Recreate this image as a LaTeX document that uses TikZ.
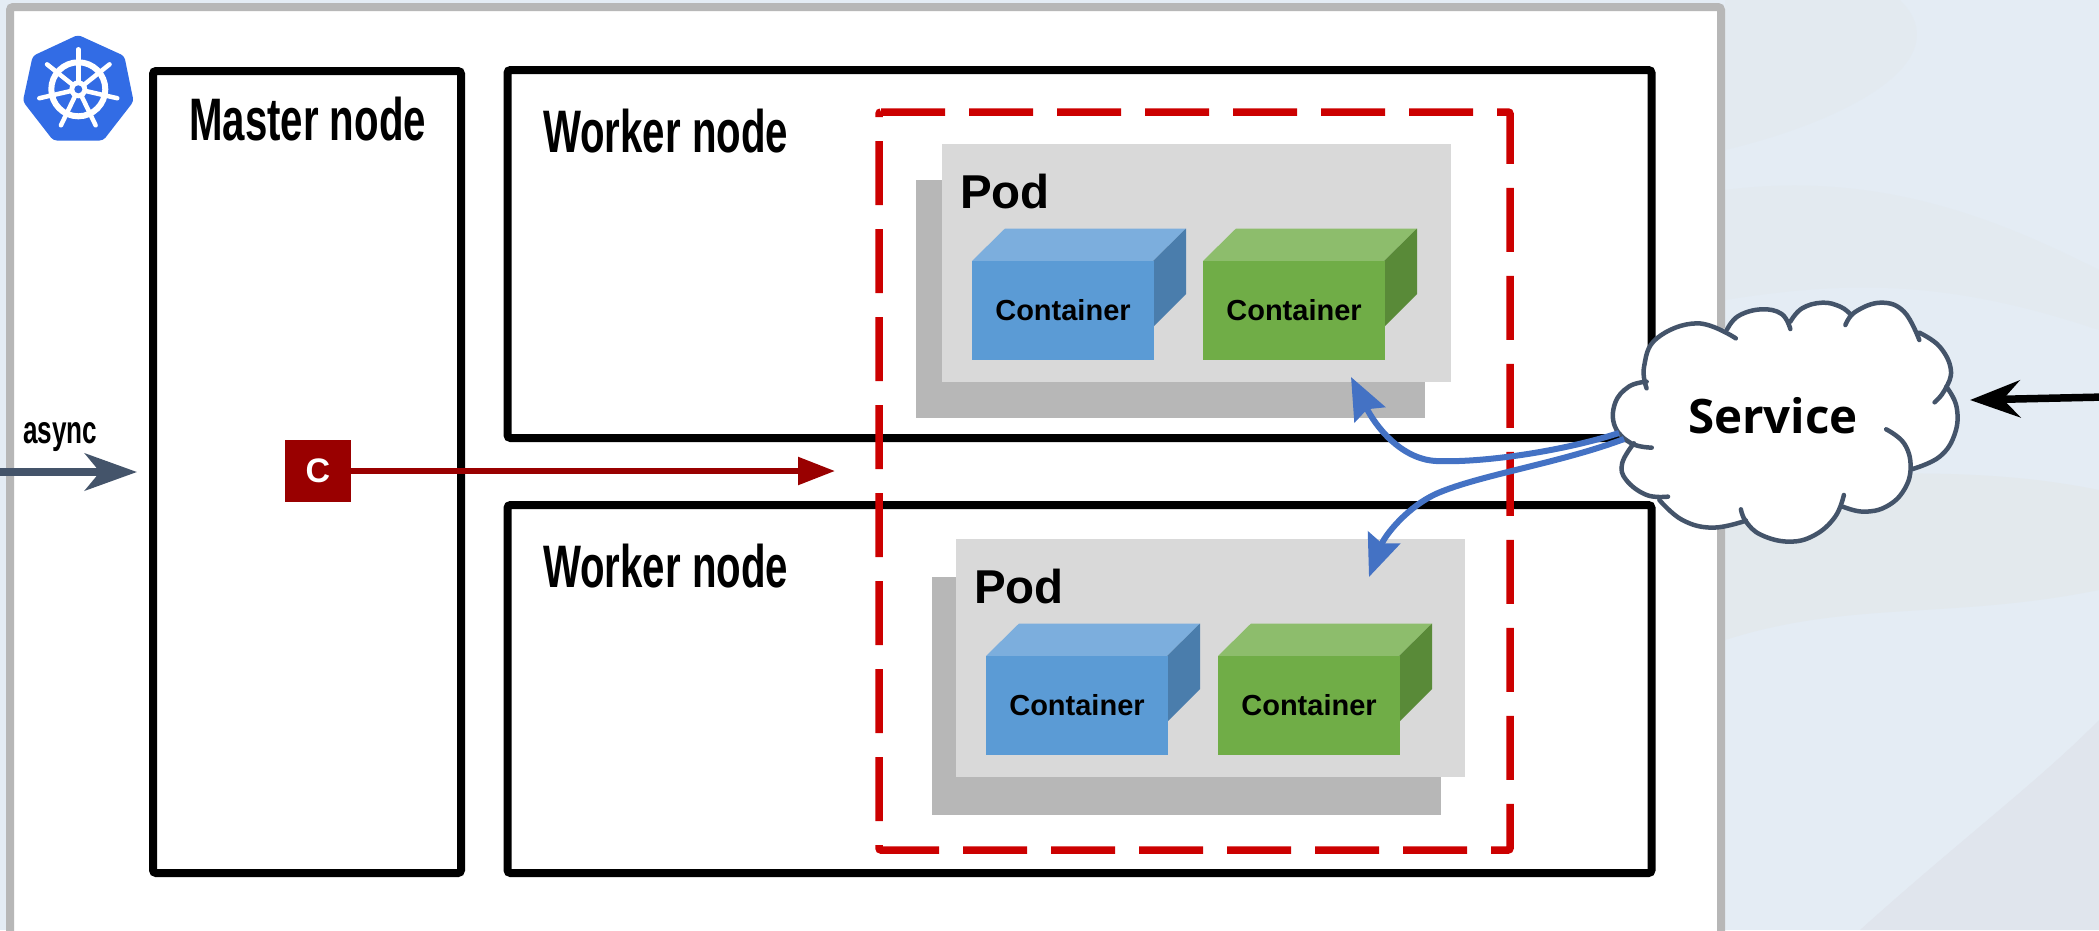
\documentclass[tikz,border=0pt]{standalone}
\usepackage{fontspec}
\setmainfont{Liberation Sans}
\newfontfamily\oswbold[FakeStretch=0.67]{Liberation Sans Bold}
\newfontfamily\svcfont{Open Sans}
\usetikzlibrary{arrows.meta}
\definecolor{bgbase}{HTML}{E4ECF4}
\definecolor{bgmid}{HTML}{E3E9ED}
\definecolor{bgtop}{HTML}{E3EAF0}
\definecolor{bglow}{HTML}{E0E5ED}
\definecolor{framegray}{HTML}{B7B7B7}
\definecolor{podfront}{HTML}{D9D9D9}
\definecolor{podback}{HTML}{B7B7B7}
\definecolor{bluefront}{HTML}{5B9BD5}
\definecolor{bluetop}{HTML}{7CAEDD}
\definecolor{blueside}{HTML}{4A7DAC}
\definecolor{greenfront}{HTML}{70AD47}
\definecolor{greentop}{HTML}{8DBD6C}
\definecolor{greenside}{HTML}{598A38}
\definecolor{dashred}{HTML}{CC0000}
\definecolor{darkred}{HTML}{990000}
\definecolor{slate}{HTML}{44546A}
\definecolor{arrowblue}{HTML}{4472C4}
\definecolor{k8sblue}{HTML}{326CE5}
\tikzset{
  nodebox/.style={draw=black,line width=8pt,rounded corners=3pt,fill=white,minimum width=#1,inner sep=0pt,outer sep=0pt},
  nodelabel/.style={anchor=base west,inner sep=0pt,font=\oswbold\fontsize{60}{60}\selectfont},
  podlabel/.style={anchor=base west,inner sep=0pt,font=\bfseries\fontsize{47.5}{47.5}\selectfont},
  ctrlabel/.style={anchor=center,inner sep=0pt,font=\bfseries\fontsize{29}{29}\selectfont},
  podface/.style={fill=podfront,inner sep=0pt,outer sep=0pt,minimum width=509pt,minimum height=238pt},
  podshade/.style={fill=podback,inner sep=0pt,outer sep=0pt,minimum width=509pt,minimum height=238pt},
  cloudline/.style={draw=slate,line width=4.5pt,line cap=round},
  bluearrow/.style={draw=arrowblue,line width=6pt,-{Stealth[length=42pt,width=34pt,inset=6pt]}},
  slatearrow/.style={draw=slate,line width=8pt,-{Stealth[length=52pt,width=37pt,inset=15pt]}},
  blackarrow/.style={draw=black,line width=7.5pt,-{Stealth[length=50pt,width=37pt,inset=17pt]}},
  redarrow/.style={draw=darkred,line width=5.5pt,-{Triangle[length=37pt,width=27pt]}},
}
\newcommand{\containerbox}[6]{% x y front top side label-name
  \fill[#4] (#1,#2) -- ++(33,-32.5) -- ++(181,0) -- ++(-33,32.5) -- cycle;
  \fill[#5] (#1+181,#2) -- ++(33,-32.5) -- ++(0,65.5) -- ++(-33,33) -- cycle;
  \node[fill=#3,inner sep=0pt,outer sep=0pt,minimum width=182pt,minimum height=99pt,anchor=north west] (#6) at (#1,#2) {};
  \node[ctrlabel] at (#1+91,#2+49.5) {Container};
}
\begin{document}
\begin{tikzpicture}[x=1pt,y=-1pt]
\clip (0,0) rectangle (2099,930);
\fill[bgbase] (0,0) rectangle (2099,930);
% mottled backdrop
\fill[bgtop] (1725,0) -- (1900,0) .. controls (1960,60) and (1850,120) .. (1725,150) -- cycle;
\fill[bgtop] (1725,190) .. controls (1880,170) and (2000,220) .. (2099,270) -- (2099,330) .. controls (1950,280) and (1850,280) .. (1725,300) -- cycle;
\fill[bgmid] (1725,480) .. controls (1900,470) and (2000,470) .. (2099,490) -- (2099,590) .. controls (1950,620) and (1850,600) .. (1725,640) -- cycle;
\fill[bglow] (1860,930) .. controls (1960,840) and (2040,780) .. (2099,720) -- (2099,930) -- cycle;
% frame
\draw[draw=framegray,line width=8pt,fill=white,rounded corners=3pt] (10,960) -- (10,7) -- (1721,7) -- (1721,960);
% logo
\fill[k8sblue,draw=k8sblue,line width=3pt,line join=round,rounded corners=3pt] (78,36.5) -- (123,57) -- (132,101) -- (102.5,139) -- (54,139) -- (24.5,101) -- (34,57) -- cycle;
\draw[white,line width=6pt] (78.3,89.3) circle (27);
\foreach \a in {-90,-38.6,12.9,64.3,115.7,167.1,-141.4}{
  \draw[white,line width=4.5pt,line cap=round] (78.3,89.3) -- ++(\a:{40}) ;
}
\fill[white] (78.3,89.3) circle (9);
\fill[k8sblue] (78.3,89.3) circle (4);
% boxes
\node[nodebox=308pt,minimum height=802pt] (master) at (307,472) {};
\node[nodebox=1144pt,minimum height=368pt] (workerA) at (1079.5,254) {};
\node[nodebox=1144pt,minimum height=368pt] (workerB) at (1079.5,689) {};
\node[nodelabel] (masterlabel) at (189,140) {Master node};
\node[nodelabel] (workerlabelA) at (543,152) {Worker node};
\node[nodelabel] (workerlabelB) at (543,587) {Worker node};
% pod 1
\node[podshade,anchor=north west] (podbackA) at (916,180) {};
\node[podface,anchor=north west] (podA) at (942,144) {};
\node[podlabel] (podlabelA) at (960,208) {Pod};
\containerbox{972}{261}{bluefront}{bluetop}{blueside}{ctrA}
\containerbox{1203}{261}{greenfront}{greentop}{greenside}{ctrB}
% pod 2
\node[podshade,anchor=north west] (podbackB) at (932,577) {};
\node[podface,anchor=north west] (podB) at (956,539) {};
\node[podlabel] (podlabelB) at (974,603) {Pod};
\containerbox{986}{656}{bluefront}{bluetop}{blueside}{ctrC}
\containerbox{1218}{656}{greenfront}{greentop}{greenside}{ctrD}
% dashed group
\draw[dashred,line width=7.5pt,dash pattern=on 64pt off 24pt,rounded corners=2pt] (879,112) -- (1510,112) -- (1510,850) -- (879,850) -- cycle;
% C node and arrow
\node[fill=darkred,inner sep=0pt,outer sep=0pt,minimum width=66pt,minimum height=62pt,text=white,font=\bfseries\fontsize{34}{34}\selectfont] (cnode) at (318,471) {C};
\coordinate (redend) at (835,471);
\draw[redarrow] (cnode.east) -- (redend);
% async
\coordinate (asyncstart) at (-5,472);
\coordinate (asyncend) at (137,472);
\draw[slatearrow] (asyncstart) -- (asyncend);
\node[anchor=base west,inner sep=0pt,font=\oswbold\fontsize{39}{39}\selectfont] (asynclabel) at (23,443) {async};
% cloud
\def\cloudlist{%
\cldarc{(680,325)(675,260)(700,175)(780,130)(855,175)}%
\cldarc{(838,148)(860,108)(905,88)(945,102)(962,147)}%
\cldarc{(962,125)(985,85)(1025,68)(1060,80)(1080,103)}%
\cldarc{(1070,135)(1090,95)(1140,68)(1185,95)(1215,180)}%
\cldarc{(1215,158)(1255,200)(1277,270)(1265,330)(1245,367)}%
\cldarc{(1268,320)(1288,380)(1285,460)(1255,530)(1200,568)}%
\cldarc{(1150,448)(1185,490)(1198,560)(1185,630)(1150,680)(1105,695)(1065,680)}%
\cldarc{(1067,645)(1050,710)(1010,765)(960,785)(905,765)(875,725)(865,688)}%
\cldarc{(875,722)(810,743)(750,720)(705,660)}%
\cldarc{(722,650)(680,645)(640,600)(632,550)(655,490)}%
\cldarc{(690,503)(650,490)(618,440)(618,370)(645,320)(680,305)}%
}
\begin{scope}[shift={(1300,280)}]
\begin{scope}[x=0.5097pt,y=-0.3333pt]
\fill[white] (680,305) -- (680,240) -- (780,130) -- (838,148) -- (905,88) -- (962,125) -- (1025,68) -- (1075,110) -- (1140,68) -- (1215,158) -- (1277,270) -- (1268,320) -- (1285,460) -- (1200,568) -- (1150,680) -- (1065,680) -- (960,785) -- (875,722) -- (810,743) -- (705,660) -- (632,550) -- (655,490) -- (618,440) -- cycle;
\def\cldarc#1{\fill[white] plot[smooth,tension=.7] coordinates {#1};}
\cloudlist
\def\cldarc#1{\draw[cloudline] plot[smooth,tension=.7] coordinates {#1};}
\cloudlist
\end{scope}
\end{scope}
\node[anchor=base,inner sep=0pt,font=\svcfont\bfseries\fontsize{47.5}{47.5}\selectfont] (service) at (1773,433) {Service};
% arrows
\coordinate (svcoutA) at (1619,433);
\coordinate (svcoutB) at (1624,439);
\coordinate (podinA) at (1351,377);
\coordinate (podinB) at (1369,577);
\draw[bluearrow] (svcoutA) .. controls (1560,452) and (1480,463) .. (1436,461) .. controls (1400,459) and (1375,425) .. (podinA);
\draw[bluearrow] (svcoutB) .. controls (1560,463) and (1480,475) .. (1438,493) .. controls (1408,506) and (1385,535) .. (podinB);
\coordinate (clientend) at (2105,397);
\coordinate (cloudin) at (1970,400);
\draw[blackarrow] (clientend) -- (cloudin);
\end{tikzpicture}
\end{document}
